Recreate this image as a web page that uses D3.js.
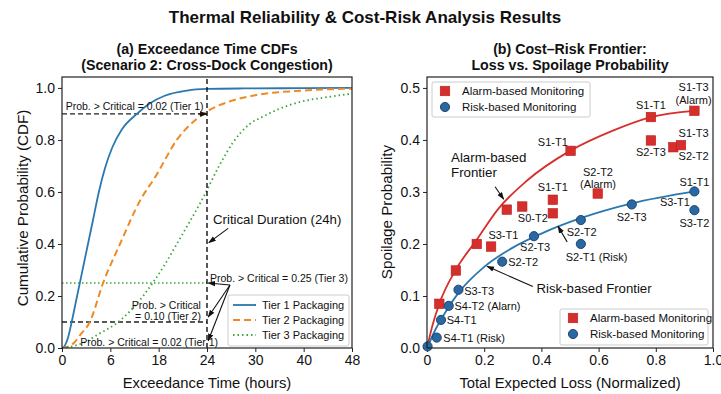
<!DOCTYPE html>
<html><head><meta charset="utf-8">
<script src="https://cdn.jsdelivr.net/npm/d3@7"></script>
<style>
body{margin:0;background:#fff;}
text{font-family:"Liberation Sans",Arial,sans-serif;fill:#111;}
</style></head>
<body><svg id="c" width="721" height="394"></svg>
<script>
// ---------- DATA ----------
const xTickVals = [0, 8, 16, 24, 32, 40, 48];
const xTickLabels = ["0", "6", "18", "24", "30", "40", "48"];
const yTicksA = [0, 0.2, 0.4, 0.6, 0.8, 1.0];

const tier1X = [0, 0.5, 1, 1.6, 2.5, 3.4, 4.3, 5.2, 6.1, 7.1, 8.3, 9.9, 12.4, 14.5, 17, 20.7, 24, 30, 40, 48];
const tier1Y = [0, 0.01, 0.04, 0.1, 0.2, 0.3, 0.4, 0.5, 0.6, 0.69, 0.77, 0.84, 0.9, 0.94, 0.97, 0.99, 0.996, 0.998, 0.999, 1.0];
const tier2X = [0, 1, 2, 3, 4.6, 6.8, 9.6, 13, 15.5, 19, 23.4, 28, 32, 40, 48];
const tier2Y = [0, 0.005, 0.02, 0.05, 0.1, 0.25, 0.4, 0.57, 0.66, 0.8, 0.9, 0.95, 0.972, 0.99, 0.997];
const tier3X = [0, 2, 4, 5.8, 9.3, 12, 15, 17, 19, 21, 23.4, 26, 28.3, 31, 33.3, 36, 39.4, 44, 48];
const tier3Y = [0, 0.008, 0.025, 0.05, 0.1, 0.16, 0.25, 0.32, 0.4, 0.48, 0.58, 0.7, 0.79, 0.86, 0.89, 0.92, 0.946, 0.965, 0.978];
const tierNames = ["Tier 1 Packaging", "Tier 2 Packaging", "Tier 3 Packaging"];

const xTicksB = [0, 0.2, 0.4, 0.6, 0.8, 1.0];
const yTicksB = [0, 0.1, 0.2, 0.3, 0.4, 0.5];
const alarmX = [0.043, 0.101, 0.174, 0.224, 0.279, 0.333, 0.44, 0.44, 0.502, 0.597, 0.783, 0.783, 0.861, 0.888, 0.935];
const alarmY = [0.085, 0.149, 0.2, 0.195, 0.266, 0.272, 0.259, 0.285, 0.379, 0.297, 0.399, 0.444, 0.386, 0.39, 0.456];
const riskX = [0.002, 0.034, 0.049, 0.076, 0.11, 0.263, 0.374, 0.538, 0.538, 0.716, 0.935, 0.935];
const riskY = [0.003, 0.02, 0.054, 0.081, 0.112, 0.166, 0.215, 0.2, 0.246, 0.276, 0.265, 0.301];
const alarmFrontX = [0, 0.02, 0.043, 0.1, 0.17, 0.25, 0.35, 0.5, 0.65, 0.783, 0.935];
const alarmFrontY = [0, 0.045, 0.085, 0.15, 0.205, 0.268, 0.322, 0.379, 0.418, 0.444, 0.456];
const riskFrontX = [0, 0.03, 0.076, 0.11, 0.2, 0.3, 0.4, 0.54, 0.716, 0.935];
const riskFrontY = [0, 0.036, 0.079, 0.106, 0.156, 0.193, 0.22, 0.25, 0.278, 0.301];
const seriesNames = ["Alarm-based Monitoring", "Risk-based Monitoring"];

// ---------- SETUP ----------
const svg = d3.select("#c");
const BLUE = "#2b78b0", ORANGE = "#f08a24", GREEN = "#3aa53a", RED = "#d62f2b", DOT = "#2a68a4";
const zip = (xs, ys) => xs.map((x, i) => [x, ys[i]]);

svg.append("defs").append("marker").attr("id", "arr")
  .attr("viewBox", "0 0 10 10").attr("refX", 9).attr("refY", 5)
  .attr("markerWidth", 7).attr("markerHeight", 7).attr("orient", "auto-start-reverse")
  .append("path").attr("d", "M0,1.5 L10,5 L0,8.5 z").attr("fill", "#111");

svg.append("text").attr("x", 365).attr("y", 23).attr("text-anchor", "middle")
  .style("font-size", "17px").style("font-weight", "bold").text("Thermal Reliability & Cost-Risk Analysis Results");

function frame(g, x0, x1, y0, y1) {
  g.append("rect").attr("x", x0).attr("y", y1).attr("width", x1 - x0).attr("height", y0 - y1)
    .attr("fill", "none").attr("stroke", "#222").attr("stroke-width", 1.2);
}
function styleAxis(a) {
  a.select(".domain").remove();
  a.selectAll(".tick line").attr("stroke", "#222").attr("stroke-width", 1);
  a.selectAll(".tick text").style("font-size", "14px").attr("fill", "#222");
}

// ---------- PANEL A ----------
const xa = d3.scaleLinear().domain([0, 48]).range([62, 352]);
const ya = d3.scaleLinear().domain([0, 1.042]).range([348, 77]);
const ga = svg.append("g");

ga.append("text").attr("x", 207).attr("y", 54).attr("text-anchor", "middle").style("font-size", "14.2px").style("font-weight", "bold").text("(a) Exceedance Time CDFs");
ga.append("text").attr("x", 207).attr("y", 70).attr("text-anchor", "middle").style("font-size", "14.2px").style("font-weight", "bold").text("(Scenario 2: Cross-Dock Congestion)");

const axA = ga.append("g").attr("transform", "translate(0,348)")
  .call(d3.axisBottom(xa).tickValues(xTickVals).tickFormat((d, i) => xTickLabels[i]).tickSize(4).tickPadding(3));
styleAxis(axA);
const ayA = ga.append("g").attr("transform", "translate(62,0)")
  .call(d3.axisLeft(ya).tickValues(yTicksA).tickFormat(d3.format(".1f")).tickSize(4).tickPadding(3));
styleAxis(ayA);

ga.append("text").attr("x", 207).attr("y", 388).attr("text-anchor", "middle").style("font-size", "14.8px").text("Exceedance Time (hours)");
ga.append("text").attr("transform", "translate(28,208) rotate(-90)").attr("text-anchor", "middle").style("font-size", "15.2px").text("Cumulative Probability (CDF)");

svg.append("defs").append("clipPath").attr("id", "clipA").append("rect")
  .attr("x", 62).attr("y", 77).attr("width", 290).attr("height", 271);

// reference lines
ga.append("line").attr("x1", xa(0)).attr("x2", xa(24)).attr("y1", ya(0.25)).attr("y2", ya(0.25))
  .attr("stroke", GREEN).attr("stroke-width", 1.3).attr("stroke-dasharray", "1.5,2.5");
ga.append("line").attr("x1", xa(0)).attr("x2", xa(24)).attr("y1", ya(0.1)).attr("y2", ya(0.1))
  .attr("stroke", "#222").attr("stroke-width", 1.3).attr("stroke-dasharray", "5,3");
ga.append("line").attr("x1", xa(0)).attr("x2", xa(23)).attr("y1", ya(0.9)).attr("y2", ya(0.9))
  .attr("stroke", "#222").attr("stroke-width", 1.3).attr("stroke-dasharray", "5,3");

const lineA = d3.line().x(d => xa(d[0])).y(d => ya(d[1])).curve(d3.curveMonotoneX);
const curves = [
  {d: zip(tier1X, tier1Y), c: BLUE, dash: null, w: 1.8},
  {d: zip(tier2X, tier2Y), c: ORANGE, dash: "7,4", w: 2},
  {d: zip(tier3X, tier3Y), c: GREEN, dash: "1.5,3", w: 1.8}
];
curves.forEach(s => {
  ga.append("path").attr("d", lineA(s.d)).attr("fill", "none").attr("stroke", s.c)
    .attr("stroke-width", s.w).attr("stroke-dasharray", s.dash).attr("clip-path", "url(#clipA)");
});

// critical vertical line
ga.append("line").attr("x1", xa(24)).attr("x2", xa(24)).attr("y1", ya(0)).attr("y2", 77)
  .attr("stroke", "#111").attr("stroke-width", 1.4).attr("stroke-dasharray", "5,3");

function arrow(g, sx, sy, x1, y1, x2, y2) {
  g.append("line").attr("x1", sx(x1)).attr("y1", sy(y1)).attr("x2", sx(x2)).attr("y2", sy(y2))
    .attr("stroke", "#111").attr("stroke-width", 1.1).attr("marker-end", "url(#arr)");
}
arrow(ga, xa, ya, 22.5, 0.9, 24, 0.9);
arrow(ga, xa, ya, 27.5, 0.46, 24.3, 0.405);
arrow(ga, xa, ya, 27.8, 0.242, 24.2, 0.25);
arrow(ga, xa, ya, 27.8, 0.242, 24.2, 0.119);
arrow(ga, xa, ya, 27.8, 0.242, 24.2, 0.028);

function label(g, sx, sy, x, y, t, size, anchor) {
  g.append("text").attr("x", sx(x)).attr("y", sy(y)).attr("text-anchor", anchor || "start")
    .style("font-size", size + "px").text(t);
}
label(ga, xa, ya, 0.6, 0.915, "Prob. > Critical = 0.02 (Tier 1)", 10.5);
label(ga, xa, ya, 25.0, 0.477, "Critical Duration (24h)", 13.2);
label(ga, xa, ya, 24.5, 0.254, "Prob. > Critical = 0.25 (Tier 3)", 10.5);
label(ga, xa, ya, 23.0, 0.15, "Prob. > Critical", 10.5, "end");
label(ga, xa, ya, 23.0, 0.108, "= 0.10 (Tier 2)", 10.5, "end");
label(ga, xa, ya, 3.0, 0.006, "Prob. > Critical = 0.02 (Tier 1)", 10.5);

// legend A
const lgA = ga.append("g");
lgA.append("rect").attr("x", 228).attr("y", 295).attr("width", 121).attr("height", 51).attr("rx", 2)
  .attr("fill", "#fff").attr("fill-opacity", 0.85).attr("stroke", "#ccc");
curves.forEach((s, i) => {
  const yy = 305 + i * 15;
  lgA.append("line").attr("x1", 233).attr("x2", 256).attr("y1", yy).attr("y2", yy)
    .attr("stroke", s.c).attr("stroke-width", s.w).attr("stroke-dasharray", s.dash);
  lgA.append("text").attr("x", 262).attr("y", yy + 4).style("font-size", "11px").text(tierNames[i]);
});

// ---------- PANEL B ----------
const xb = d3.scaleLinear().domain([0, 1]).range([427, 713]);
const yb = d3.scaleLinear().domain([0, 0.521]).range([348, 77]);
const gb = svg.append("g");

gb.append("text").attr("x", 570).attr("y", 54).attr("text-anchor", "middle").style("font-size", "14.2px").style("font-weight", "bold").text("(b) Cost\u2013Risk Frontier:");
gb.append("text").attr("x", 570).attr("y", 70).attr("text-anchor", "middle").style("font-size", "14.2px").style("font-weight", "bold").text("Loss vs. Spoilage Probability");

const axB = gb.append("g").attr("transform", "translate(0,348)")
  .call(d3.axisBottom(xb).tickValues(xTicksB).tickFormat(d => d === 0 ? "0" : d3.format(".1f")(d)).tickSize(4).tickPadding(3));
styleAxis(axB);
const ayB = gb.append("g").attr("transform", "translate(427,0)")
  .call(d3.axisLeft(yb).tickValues(yTicksB).tickFormat(d3.format(".1f")).tickSize(4).tickPadding(3));
styleAxis(ayB);

gb.append("text").attr("x", 570).attr("y", 388).attr("text-anchor", "middle").style("font-size", "14.8px").text("Total Expected Loss (Normalized)");
gb.append("text").attr("transform", "translate(392,212) rotate(-90)").attr("text-anchor", "middle").style("font-size", "15.2px").text("Spoilage Probability");

const lineB = d3.line().x(d => xb(d[0])).y(d => yb(d[1])).curve(d3.curveMonotoneX);
gb.append("path").attr("d", lineB(zip(alarmFrontX, alarmFrontY))).attr("fill", "none").attr("stroke", RED).attr("stroke-width", 1.8);
gb.append("path").attr("d", lineB(zip(riskFrontX, riskFrontY))).attr("fill", "none").attr("stroke", BLUE).attr("stroke-width", 1.8);

const SQ = 9.5;
function square(g, cx, cy) {
  g.append("rect").attr("x", cx - SQ / 2).attr("y", cy - SQ / 2).attr("width", SQ).attr("height", SQ)
    .attr("fill", RED).attr("stroke", "#b82020").attr("stroke-width", 0.6);
}
function circle(g, cx, cy) {
  g.append("circle").attr("cx", cx).attr("cy", cy).attr("r", 4.6)
    .attr("fill", DOT).attr("stroke", "#173e66").attr("stroke-width", 0.9);
}
zip(alarmX, alarmY).forEach(d => square(gb, xb(d[0]), yb(d[1])));
zip(riskX, riskY).forEach(d => circle(gb, xb(d[0]), yb(d[1])));

// point labels
const ptLabels = [
  [0.932, 0.494, "S1-T3", "middle"], [0.932, 0.469, "(Alarm)", "middle"],
  [0.783, 0.46, "S1-T1", "middle"], [0.783, 0.369, "S2-T3", "middle"],
  [0.932, 0.406, "S1-T3", "middle"], [0.932, 0.362, "S2-T2", "middle"],
  [0.44, 0.388, "S1-T1", "middle"],
  [0.598, 0.331, "S2-T2", "middle"], [0.598, 0.308, "(Alarm)", "middle"],
  [0.44, 0.302, "S1-T1", "middle"],
  [0.37, 0.242, "S0-T2", "middle"],
  [0.267, 0.21, "S3-T1", "middle"],
  [0.378, 0.186, "S2-T3", "middle"],
  [0.541, 0.215, "S2-T2", "middle"],
  [0.593, 0.167, "S2-T1 (Risk)", "middle"],
  [0.716, 0.244, "S2-T3", "middle"],
  [0.935, 0.232, "S3-T2", "middle"],
  [0.935, 0.312, "S1-T1", "middle"],
  [0.867, 0.273, "S3-T1", "middle"],
  [0.284, 0.157, "S2-T2", "start"],
  [0.13, 0.102, "S3-T3", "start"],
  [0.096, 0.073, "S4-T2 (Alarn)", "start"],
  [0.069, 0.046, "S4-T1", "start"],
  [0.057, 0.012, "S4-T1 (Risk)", "start"]
];
ptLabels.forEach(l => label(gb, xb, yb, l[0], l[1], l[2], 11, l[3]));

label(gb, xb, yb, 0.084, 0.358, "Alarm-based", 13.3);
label(gb, xb, yb, 0.084, 0.329, "Frontier", 13.3);
label(gb, xb, yb, 0.383, 0.106, "Risk-based Frontier", 13.2);
arrow(gb, xb, yb, 0.238, 0.31, 0.268, 0.286);
arrow(gb, xb, yb, 0.37, 0.118, 0.21, 0.157);
arrow(gb, xb, yb, 0.49, 0.204, 0.458, 0.234);

function legendB(x, y, w, h) {
  const g = gb.append("g");
  g.append("rect").attr("x", x).attr("y", y).attr("width", w).attr("height", h).attr("rx", 2)
    .attr("fill", "#fff").attr("fill-opacity", 0.85).attr("stroke", "#ccc");
  square(g, x + 13, y + 9);
  g.append("text").attr("x", x + 30).attr("y", y + 13).style("font-size", "11.5px").text(seriesNames[0]);
  circle(g, x + 13, y + 25);
  g.append("text").attr("x", x + 30).attr("y", y + 29).style("font-size", "11.5px").text(seriesNames[1]);
}
legendB(432, 82, 158, 35);
legendB(560, 309, 148, 36);

frame(ga, 62, 352, 348, 77);
frame(gb, 427, 713, 348, 77);
</script></body></html>
